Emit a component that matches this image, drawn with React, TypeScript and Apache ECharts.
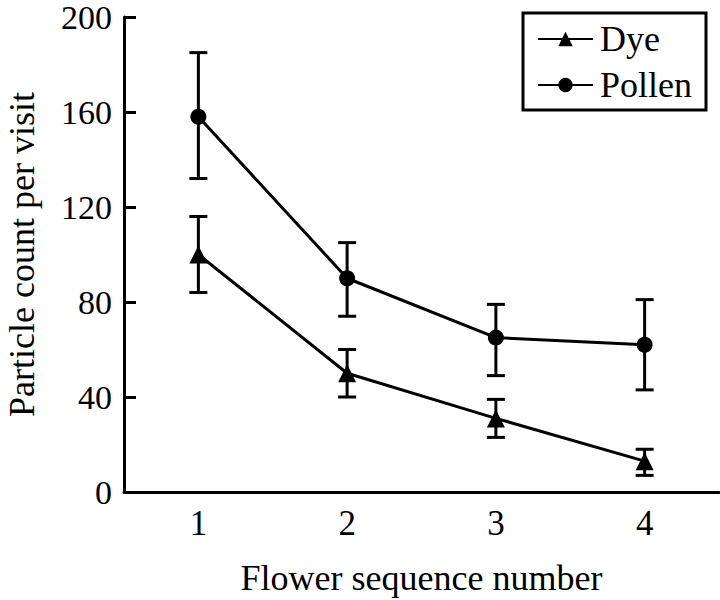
import React, { useEffect, useRef } from "react";
import * as echarts from "echarts";

const categories = ["1", "2", "3", "4"];
const dyeMean = [100, 50, 31, 13];
const dyeLow = [84, 40, 23, 7];
const dyeHigh = [116, 60, 39, 18];
const pollenMean = [158, 90, 65, 62];
const pollenLow = [132, 74, 49, 43];
const pollenHigh = [185, 105, 79, 81];
const yTicks = { min: 0, max: 200, interval: 40 };

const FONT = "Liberation Serif";

function errorSeries(name: string, low: number[], high: number[]) {
  return {
    type: "custom",
    name: name + "-err",
    silent: true,
    z: 3,
    data: categories.map((c, i) => [i, low[i], high[i]]),
    renderItem: (params: any, api: any) => {
      const x = api.value(0);
      const lo = api.coord([x, api.value(1)]);
      const hi = api.coord([x, api.value(2)]);
      const hw = 9;
      const style = { stroke: "#000", lineWidth: 3 };
      return {
        type: "group",
        children: [
          { type: "line", shape: { x1: lo[0], y1: lo[1], x2: hi[0], y2: hi[1] }, style },
          { type: "line", shape: { x1: lo[0] - hw, y1: lo[1], x2: lo[0] + hw, y2: lo[1] }, style },
          { type: "line", shape: { x1: hi[0] - hw, y1: hi[1], x2: hi[0] + hw, y2: hi[1] }, style },
        ],
      };
    },
  };
}

export default function App() {
  const ref = useRef<HTMLDivElement>(null);
  useEffect(() => {
    if (!ref.current) return;
    const chart = echarts.init(ref.current, undefined, { renderer: "svg" });
    chart.setOption({
      animation: false,
      backgroundColor: "#fff",
      textStyle: { fontFamily: FONT, color: "#000" },
      grid: { left: 124, right: 1, top: 17, bottom: 108, containLabel: false, outerBoundsMode: "none" },
      legend: {
        orient: "vertical",
        right: 14,
        top: 13,
        data: ["Dye", "Pollen"],
        borderColor: "#000",
        borderWidth: 3,
        padding: [8, 14, 7, 14],
        itemWidth: 55,
        itemHeight: 18,
        itemGap: 10,
        textStyle: { fontFamily: FONT, fontSize: 36, color: "#000", lineHeight: 36, padding: [0, 0, 0, 2] },
      },
      xAxis: {
        type: "category",
        data: categories,
        boundaryGap: true,
        name: "Flower sequence number",
        nameLocation: "middle",
        nameGap: 68,
        nameTextStyle: { fontFamily: FONT, fontSize: 36, color: "#000" },
        axisLine: { lineStyle: { color: "#000", width: 3 } },
        axisTick: { inside: true, length: 13, lineStyle: { color: "#000", width: 3 } },
        axisLabel: { fontFamily: FONT, fontSize: 35, color: "#000", margin: 14 },
        splitLine: { show: false },
      },
      yAxis: {
        type: "value",
        min: yTicks.min,
        max: yTicks.max,
        interval: yTicks.interval,
        name: "Particle count per visit",
        nameLocation: "middle",
        nameGap: 84,
        nameTextStyle: { fontFamily: FONT, fontSize: 36, color: "#000" },
        axisLine: { show: true, lineStyle: { color: "#000", width: 3 } },
        axisTick: { show: true, inside: true, length: 12, lineStyle: { color: "#000", width: 3 } },
        axisLabel: { fontFamily: FONT, fontSize: 34, lineHeight: 26, color: "#000", margin: 12 },
        splitLine: { show: false },
      },
      series: [
        errorSeries("Dye", dyeLow, dyeHigh),
        errorSeries("Pollen", pollenLow, pollenHigh),
        {
          type: "line",
          name: "Dye",
          data: dyeMean,
          symbol: "triangle",
          symbolSize: 18,
          z: 4,
          lineStyle: { color: "#000", width: 3 },
          itemStyle: { color: "#000" },
        },
        {
          type: "line",
          name: "Pollen",
          data: pollenMean,
          symbol: "circle",
          symbolSize: 16,
          z: 4,
          lineStyle: { color: "#000", width: 3 },
          itemStyle: { color: "#000" },
        },
      ],
    });
    return () => chart.dispose();
  }, []);
  return (
    <div
      ref={ref}
      style={{ position: "absolute", left: 0, top: 0, width: 720, height: 600 }}
    />
  );
}
